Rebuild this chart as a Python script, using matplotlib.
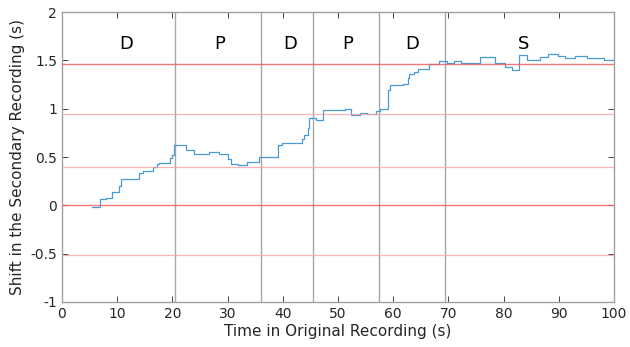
import matplotlib
matplotlib.use('Agg')
import matplotlib.pyplot as plt
import numpy as np

plt.rcParams['font.family'] = 'DejaVu Sans'
plt.rcParams['axes.unicode_minus'] = False

# step changes of the shift (time in s, shift in s)
step_t = [5.5, 6.9, 7.9, 9.0, 10.4, 10.7, 14.0, 14.7, 16.5, 17.2, 17.6, 19.6, 20.0, 20.3,
          22.5, 23.9, 26.7, 28.5, 30.1, 30.6, 31.8, 33.6, 35.7, 39.2, 39.8, 43.4, 43.9,
          44.5, 44.8, 46.0, 47.3, 51.3, 52.4, 53.9, 55.2, 56.8, 57.6, 59.0, 59.4, 61.7,
          62.6, 62.9, 63.8, 64.5, 66.4, 68.3, 69.8, 71.0, 72.3, 75.7, 78.4, 80.3, 81.5,
          82.8, 84.3, 86.6, 88.0, 89.9, 91.1, 92.9, 95.1, 98.2, 100.0]
step_v = [-0.02, 0.065, 0.08, 0.14, 0.20, 0.27, 0.33, 0.36, 0.40, 0.43, 0.44, 0.49, 0.52, 0.62,
          0.57, 0.53, 0.55, 0.53, 0.48, 0.43, 0.42, 0.445, 0.50, 0.62, 0.64, 0.69, 0.73,
          0.80, 0.90, 0.88, 0.985, 1.00, 0.93, 0.96, 0.94, 0.975, 1.00, 1.19, 1.24, 1.26,
          1.32, 1.355, 1.375, 1.415, 1.46, 1.49, 1.475, 1.495, 1.475, 1.535, 1.47, 1.43, 1.40,
          1.56, 1.50, 1.53, 1.565, 1.54, 1.525, 1.54, 1.525, 1.505, 1.505]

# reference shifts (horizontal lines)
ref_strong = [1.462, 0.0]
ref_light = [0.944, 0.396, -0.515]

# segment boundaries and labels
bounds = [20.5, 36.05, 45.5, 57.4, 69.4]
seg_labels = ['D', 'P', 'D', 'P', 'D', 'S']
seg_x = [11.6, 28.6, 41.3, 51.8, 63.4, 83.7]
label_y = 1.67

fig = plt.figure(figsize=(6.3, 3.47), dpi=100)
ax = fig.add_axes([0.0984, 0.1297, 0.8762, 0.8357])

ax.plot(step_t, step_v, drawstyle='steps-post', color='#4a9ad6', lw=0.9, zorder=2)

for b in bounds:
    ax.axvline(b, color='#a8a8a8', lw=1.0, zorder=1)
for r in ref_strong:
    ax.axhline(r, color='#f06060', lw=1.0, alpha=0.85, zorder=3)
for r in ref_light:
    ax.axhline(r, color='#f7a0a0', lw=0.9, alpha=0.8, zorder=3)

for lab, x in zip(seg_labels, seg_x):
    ax.text(x, label_y, lab, fontsize=13, ha='center', va='center', color='black')

ax.set_xlim(0, 100)
ax.set_ylim(-1, 2)
ax.set_xticks(np.arange(0, 101, 10))
ax.set_yticks(np.arange(-1, 2.01, 0.5))
ax.set_yticklabels(['-1', '-0.5', '0', '0.5', '1', '1.5', '2'])
ax.tick_params(direction='in', top=True, right=True, length=4, width=0.6,
               colors='#262626', labelsize=10)
for s in ax.spines.values():
    s.set_color('#a0a0a0')
    s.set_linewidth(1.0)

ax.set_xlabel('Time in Original Recording (s)', fontsize=11, color='#262626', labelpad=2)
ax.set_ylabel('Shift in the Secondary Recording (s)', fontsize=11, color='#262626', labelpad=4)

fig.savefig('out.png', dpi=100)
